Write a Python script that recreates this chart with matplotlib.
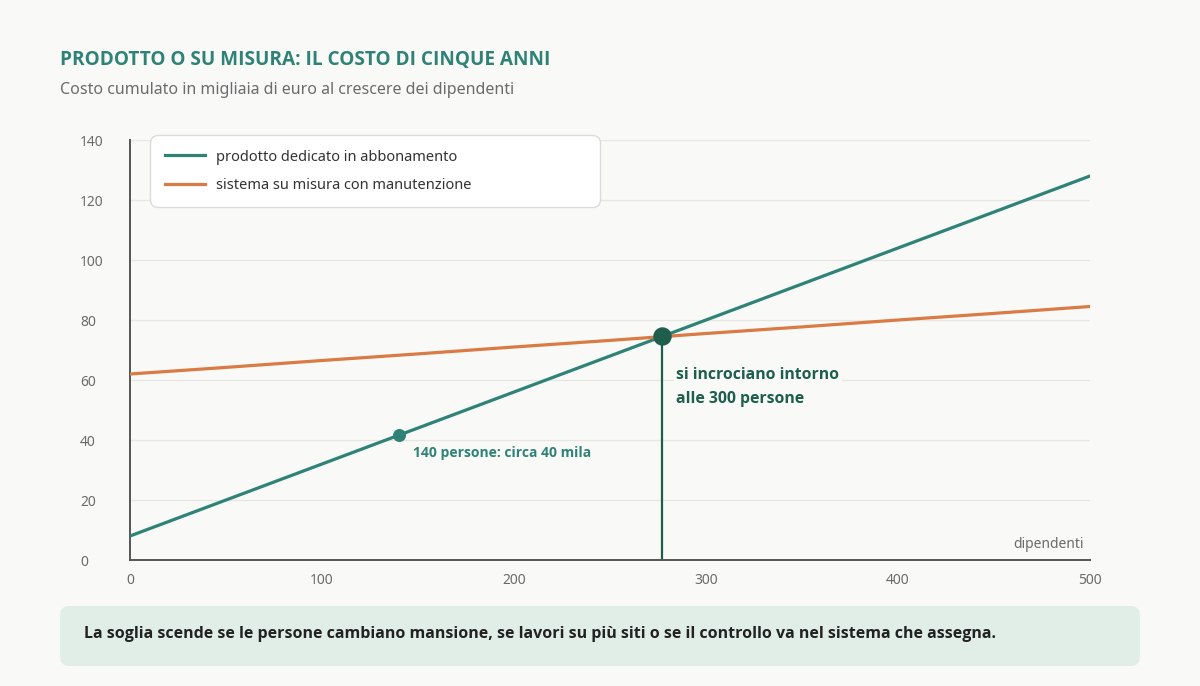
import matplotlib.pyplot as plt
from matplotlib.patches import FancyBboxPatch

teal = '#2e8276'
orange = '#da7b45'
dark_green = '#1d5e4c'
bg = '#f9f9f7'
grey_txt = '#6b6b6b'
bold_font = ['Open Sans', 'DejaVu Sans']

# dati
dipendenti = [0, 50, 100, 150, 200, 250, 300, 350, 400, 450, 500]
prodotto = [8, 20, 32, 44, 56, 68, 80, 92, 104, 116, 128]
su_misura = [62, 64.2, 66.5, 68.7, 71, 73.2, 75.5, 77.7, 80, 82.2, 84.5]
incrocio_x, incrocio_y = 277, 74.6
punto_x, punto_y = 140, 41.6
yticks = [0, 20, 40, 60, 80, 100, 120, 140]
xticks = [0, 100, 200, 300, 400, 500]

plt.rcParams['font.family'] = ['Noto Sans', 'DejaVu Sans']

fig = plt.figure(figsize=(12, 6.86), dpi=100, facecolor=bg)
ax = fig.add_axes([130 / 1200, 1 - 560 / 686, 960 / 1200, 420 / 686])
ax.set_facecolor(bg)

ax.plot(dipendenti, prodotto, color=teal, linewidth=2.3,
        label='prodotto dedicato in abbonamento', zorder=3)
ax.plot(dipendenti, su_misura, color=orange, linewidth=2.3,
        label='sistema su misura con manutenzione', zorder=3)

ax.plot([incrocio_x, incrocio_x], [0, incrocio_y], color=dark_green,
        linewidth=1.6, zorder=2)
ax.scatter([incrocio_x], [incrocio_y], s=150, color=dark_green, zorder=5)
ax.scatter([punto_x], [punto_y], s=70, color=teal, zorder=5)

ax.text(incrocio_x + 7.6, 57.6, 'si incrociano intorno\nalle 300 persone',
        fontsize=11.3, fontweight='bold', family=bold_font, color=dark_green,
        va='center', linespacing=1.68, zorder=6,
        bbox=dict(facecolor=bg, edgecolor='none', pad=2))
ax.text(punto_x + 7.6, 35.6, '140 persone: circa 40 mila', fontsize=10,
        fontweight='bold', family=bold_font, color=teal, va='center', zorder=6)
ax.text(497, 5.3, 'dipendenti', fontsize=10, color=grey_txt,
        ha='right', va='center')

ax.set_xlim(0, 500)
ax.set_ylim(0, 140)
ax.set_xticks(xticks)
ax.set_yticks(yticks)
ax.tick_params(length=0, labelsize=10, labelcolor=grey_txt)
ax.tick_params(axis='x', pad=9)
ax.tick_params(axis='y', pad=36)
for lab in ax.get_yticklabels():
    lab.set_horizontalalignment('left')
ax.grid(axis='y', color='#e6e6e3', linewidth=0.9)
ax.set_axisbelow(True)
for s in ['top', 'right']:
    ax.spines[s].set_visible(False)
ax.spines['left'].set_color('#555555')
ax.spines['left'].set_linewidth(1.4)
ax.spines['bottom'].set_color('#555555')
ax.spines['bottom'].set_linewidth(1.4)

leg = ax.legend(loc='upper left', mode='expand',
                bbox_to_anchor=(20 / 960, 357 / 420, 450 / 960, 68 / 420),
                borderaxespad=0, fontsize=10.5, frameon=True, fancybox=True,
                handlelength=2.75, handletextpad=0.75, labelspacing=0.9,
                borderpad=1.0, labelcolor='#333333')
frame = leg.get_frame()
frame.set_facecolor('white')
frame.set_edgecolor('#dcdcdc')
frame.set_alpha(1)
frame.set_boxstyle('round', pad=0, rounding_size=0.55)
leg.set_zorder(7)

fig.text(60 / 1200, 1 - 59.5 / 686, 'PRODOTTO O SU MISURA: IL COSTO DI CINQUE ANNI',
         fontsize=13.7, fontweight='bold', family=bold_font, color=teal,
         va='center')
fig.text(60 / 1200, 1 - 90 / 686,
         'Costo cumulato in migliaia di euro al crescere dei dipendenti',
         fontsize=11.5, color=grey_txt, va='center')

box = FancyBboxPatch((60 / 1200, 1 - 666 / 686), 1080 / 1200, 60 / 686,
                     boxstyle='round,pad=0,rounding_size=0.008',
                     mutation_aspect=1200 / 686,
                     transform=fig.transFigure, facecolor='#e1eee7',
                     edgecolor='none')
fig.patches.append(box)
fig.text(84 / 1200, 1 - 634 / 686,
         'La soglia scende se le persone cambiano mansione, se lavori su più siti '
         'o se il controllo va nel sistema che assegna.',
         fontsize=11.5, fontweight='bold', family=bold_font, color='#222222',
         va='center')

fig.savefig('out.png', dpi=100, facecolor=bg)
